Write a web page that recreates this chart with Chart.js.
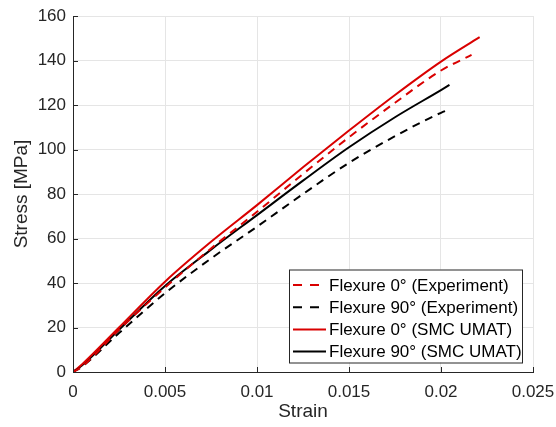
<!DOCTYPE html>
<html>
<head>
<meta charset="utf-8">
<script src="https://cdn.jsdelivr.net/npm/chart.js@4.4.0/dist/chart.umd.min.js"></script>
<style>
  html, body { margin: 0; padding: 0; background: #fff; }
  #wrap { width: 556px; height: 427px; position: relative; }
</style>
</head>
<body>
<div id="wrap"><canvas id="myChart"></canvas></div>
<script>
// values (strain, stress in MPa)
const exp0Strain  = [0, 0.0005, 0.0025, 0.005, 0.0075, 0.01, 0.0125, 0.015, 0.0175, 0.02, 0.02166];
const exp0Stress  = [0, 2.5, 19, 38, 55.5, 72, 89, 105.5, 121, 135.5, 142.5];

const exp90Strain = [0, 0.0005, 0.0025, 0.005, 0.0075, 0.01, 0.0125, 0.015, 0.0175, 0.02, 0.02047];
const exp90Stress = [0, 2.5, 17.5, 35.4, 51, 65.3, 80, 94, 106, 116.5, 118];

const umat0Strain  = [0, 0.0005, 0.0025, 0.005, 0.0075, 0.01, 0.0125, 0.015, 0.0175, 0.02, 0.0221];
const umat0Stress  = [0, 3.5, 20, 40.6, 58.5, 75, 92, 108.5, 124.5, 139.5, 150.5];

const umat90Strain = [0, 0.0005, 0.0025, 0.005, 0.0075, 0.01, 0.0125, 0.015, 0.0175, 0.02, 0.02046];
const umat90Stress = [0, 3, 19, 38.7, 55, 70.5, 86, 101, 114.5, 126.7, 129];

const xTicks = [0, 0.005, 0.01, 0.015, 0.02, 0.025];
const yTicks = [0, 20, 40, 60, 80, 100, 120, 140, 160];

const labels = [
  'Flexure 0° (Experiment)',
  'Flexure 90° (Experiment)',
  'Flexure 0° (SMC UMAT)',
  'Flexure 90° (SMC UMAT)'
];

const RED = '#d90000';
const BLK = '#000000';
const FONT = "'Liberation Sans', Arial, Helvetica, sans-serif";

const toPts = (xs, ys) => xs.map((x, i) => ({ x: x, y: ys[i] }));

// legend drawn inside the plot, bottom right, from the dataset styles
const boxLegend = {
  id: 'boxLegend',
  afterDraw(chart) {
    const ctx = chart.ctx;
    const x0 = 289, y0 = 269.5, w = 233, h = 93;
    ctx.save();
    ctx.fillStyle = '#fff';
    ctx.fillRect(x0, y0, w, h);
    ctx.strokeStyle = '#262626';
    ctx.lineWidth = 1;
    ctx.strokeRect(x0 + 0.5, y0 + 0.5, w, h);
    ctx.font = '17px ' + FONT;
    ctx.textBaseline = 'middle';
    ctx.fillStyle = '#000';
    chart.data.datasets.forEach((ds, i) => {
      const yy = y0 + 15.5 + i * 22.2;
      ctx.beginPath();
      ctx.strokeStyle = ds.borderColor;
      ctx.lineWidth = ds.borderWidth;
      if (ds.borderDash && ds.borderDash.length) {
        ctx.setLineDash([9, 8]);
        ctx.moveTo(293, yy);
        ctx.lineTo(320, yy);
      } else {
        ctx.setLineDash([]);
        ctx.moveTo(293, yy);
        ctx.lineTo(326, yy);
      }
      ctx.stroke();
      ctx.setLineDash([]);
      ctx.fillText(ds.label, 329, yy + 1);
    });
    ctx.restore();
  }
};

// MATLAB style inward ticks on left and bottom axes
const inTicks = {
  id: 'inTicks',
  afterDatasetsDraw(chart) {
    const ctx = chart.ctx;
    const a = chart.chartArea;
    const xs = chart.scales.x, ys = chart.scales.y;
    ctx.save();
    ctx.strokeStyle = '#262626';
    ctx.lineWidth = 1;
    ctx.beginPath();
    xTicks.forEach(v => {
      const p = Math.round(xs.getPixelForValue(v)) + 0.5;
      ctx.moveTo(p, a.bottom);
      ctx.lineTo(p, a.bottom - 5);
    });
    yTicks.forEach(v => {
      const p = Math.round(ys.getPixelForValue(v)) + 0.5;
      ctx.moveTo(a.left, p);
      ctx.lineTo(a.left + 5, p);
    });
    ctx.stroke();
    ctx.restore();
  }
};

const ctx = document.getElementById('myChart');
const myChart = new Chart(ctx, {
  type: 'line',
  data: {
    datasets: [{
      label: labels[0],
      data: toPts(exp0Strain, exp0Stress),
      borderColor: RED,
      borderWidth: 2,
      borderDash: [8, 6]
    }, {
      label: labels[1],
      data: toPts(exp90Strain, exp90Stress),
      borderColor: BLK,
      borderWidth: 2,
      borderDash: [8, 6]
    }, {
      label: labels[2],
      data: toPts(umat0Strain, umat0Stress),
      borderColor: RED,
      borderWidth: 2
    }, {
      label: labels[3],
      data: toPts(umat90Strain, umat90Stress),
      borderColor: BLK,
      borderWidth: 2
    }]
  },
  options: {
    responsive: true,
    maintainAspectRatio: false,
    animation: false,
    devicePixelRatio: 1,
    layout: { padding: { top: 16, right: 23, left: 0, bottom: 0 } },
    elements: {
      point: { radius: 0 },
      line: { cubicInterpolationMode: 'monotone', fill: false }
    },
    plugins: {
      legend: { display: false },
      tooltip: { enabled: false }
    },
    scales: {
      x: {
        type: 'linear',
        min: 0,
        max: 0.025,
        afterFit: s => {
          s.height = 55;
          s.paddingLeft = 0;
          s.paddingRight = 0;
        },
        afterBuildTicks: s => { s.ticks = xTicks.map(v => ({ value: v })); },
        ticks: {
          color: '#262626',
          font: { family: FONT, size: 17 },
          padding: 10,
          maxRotation: 0,
          callback: v => String(+v.toFixed(3))
        },
        grid: { color: '#e5e5e5', drawTicks: false },
        border: { color: '#262626', width: 1 },
        title: {
          display: true,
          text: 'Strain',
          color: '#262626',
          font: { family: FONT, size: 19 },
          padding: { top: 0, bottom: 4 }
        }
      },
      y: {
        min: 0,
        max: 160,
        afterFit: s => {
          s.width = 73;
          s.paddingTop = 0;
          s.paddingBottom = 0;
        },
        afterBuildTicks: s => { s.ticks = yTicks.map(v => ({ value: v })); },
        ticks: {
          color: '#262626',
          font: { family: FONT, size: 17 },
          padding: 7
        },
        grid: { color: '#e5e5e5', drawTicks: false },
        border: { color: '#262626', width: 1 },
        title: {
          display: true,
          text: 'Stress [MPa]',
          color: '#262626',
          font: { family: FONT, size: 19 },
          padding: { top: 10, bottom: 0 }
        }
      }
    }
  },
  plugins: [inTicks, boxLegend]
});
</script>
</body>
</html>
